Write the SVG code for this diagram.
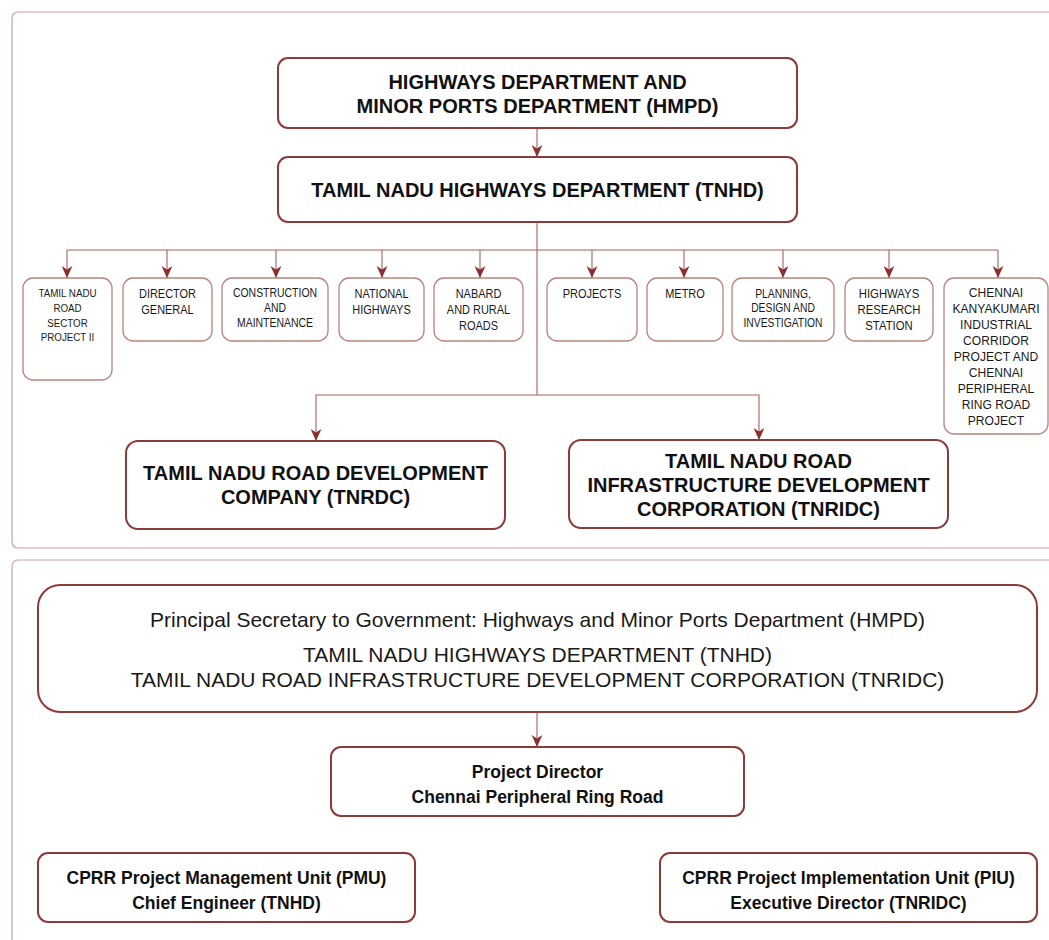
<svg xmlns="http://www.w3.org/2000/svg" width="1049" height="940" viewBox="0 0 1049 940">
<style>
.panel{fill:#ffffff;stroke:#c9a29e;stroke-width:1.2}
.big{fill:#ffffff;stroke:#8c3a3a;stroke-width:2}
.small{fill:#ffffff;stroke:#b8827e;stroke-width:1.3}
.conn{fill:none;stroke:#a8625e;stroke-width:1.1}
.tb{font-family:"Liberation Sans",Arial,sans-serif;font-weight:bold;fill:#111;text-anchor:middle}
.tr{font-family:"Liberation Sans",Arial,sans-serif;fill:#1a1a1a;text-anchor:middle}
.s11{font-size:12.6px}
.s10{font-size:11.5px}
.s12{font-size:13px}
</style>
<defs>
<marker id="arr" markerUnits="userSpaceOnUse" markerWidth="12" markerHeight="12" viewBox="0 0 10 10" refX="10" refY="5" orient="auto">
<path d="M0,0.5 L10,5 L0,9.5 L3,5 z" fill="#8c2f2f"/>
</marker>
</defs>
<rect width="1049" height="940" fill="#ffffff"/>
<rect class="panel" x="12" y="12" width="1060" height="536" rx="6"/>
<rect class="panel" x="12" y="560" width="1060" height="400" rx="6"/>

<g id="connectors">
<line class="conn" x1="537" y1="128" x2="537" y2="157" marker-end="url(#arr)"/>
<line class="conn" x1="537" y1="222" x2="537" y2="395"/>
<line class="conn" x1="67" y1="250" x2="998" y2="250"/>
<line class="conn" x1="67" y1="250" x2="67" y2="278" marker-end="url(#arr)"/>
<line class="conn" x1="167" y1="250" x2="167" y2="278" marker-end="url(#arr)"/>
<line class="conn" x1="276" y1="250" x2="276" y2="278" marker-end="url(#arr)"/>
<line class="conn" x1="382" y1="250" x2="382" y2="278" marker-end="url(#arr)"/>
<line class="conn" x1="480" y1="250" x2="480" y2="278" marker-end="url(#arr)"/>
<line class="conn" x1="592" y1="250" x2="592" y2="278" marker-end="url(#arr)"/>
<line class="conn" x1="684" y1="250" x2="684" y2="278" marker-end="url(#arr)"/>
<line class="conn" x1="783" y1="250" x2="783" y2="278" marker-end="url(#arr)"/>
<line class="conn" x1="889" y1="250" x2="889" y2="278" marker-end="url(#arr)"/>
<line class="conn" x1="998" y1="250" x2="998" y2="278" marker-end="url(#arr)"/>
<polyline class="conn" points="537,395 316,395 316,441" marker-end="url(#arr)"/>
<polyline class="conn" points="537,395 759,395 759,440" marker-end="url(#arr)"/>
<line class="conn" x1="537" y1="712" x2="537" y2="747" marker-end="url(#arr)"/>
</g>

<g id="hmpd">
<rect class="big" x="278" y="58" width="519" height="70" rx="10"/>
<text class="tb" font-size="20" x="537.5" y="89">HIGHWAYS DEPARTMENT AND</text>
<text class="tb" font-size="20" x="537.5" y="113">MINOR PORTS DEPARTMENT (HMPD)</text>
</g>
<g id="tnhd">
<rect class="big" x="278" y="157" width="519" height="65" rx="10"/>
<text class="tb" font-size="20" x="537.5" y="197">TAMIL NADU HIGHWAYS DEPARTMENT (TNHD)</text>
</g>

<g id="tnrsp">
<rect class="small" x="23" y="278" width="89" height="102" rx="10"/>
<g transform="translate(67.5 0) scale(0.85 1)">
<text class="tr s10" x="0" y="297">TAMIL NADU</text>
<text class="tr s10" x="0" y="312">ROAD</text>
<text class="tr s10" x="0" y="327">SECTOR</text>
<text class="tr s10" x="0" y="341">PROJECT II</text>
</g>
</g>
<g id="dg">
<rect class="small" x="123" y="278" width="89" height="63" rx="10"/>
<g transform="translate(167.5 0) scale(0.87 1)">
<text class="tr s11" x="0" y="298.5">DIRECTOR</text>
<text class="tr s11" x="0" y="314.5">GENERAL</text>
</g>
</g>
<g id="cm">
<rect class="small" x="222" y="278" width="106" height="63" rx="10"/>
<g transform="translate(275 0) scale(0.83 1)">
<text class="tr s11" x="0" y="297.5">CONSTRUCTION</text>
<text class="tr s11" x="0" y="312.5">AND</text>
<text class="tr s11" x="0" y="327.5">MAINTENANCE</text>
</g>
</g>
<g id="nh">
<rect class="small" x="339" y="278" width="85" height="63" rx="10"/>
<g transform="translate(381.5 0) scale(0.87 1)">
<text class="tr s11" x="0" y="298.5">NATIONAL</text>
<text class="tr s11" x="0" y="314.5">HIGHWAYS</text>
</g>
</g>
<g id="nabard">
<rect class="small" x="434" y="278" width="89" height="63" rx="10"/>
<g transform="translate(478.5 0) scale(0.87 1)">
<text class="tr s11" x="0" y="298.5">NABARD</text>
<text class="tr s11" x="0" y="314.5">AND RURAL</text>
<text class="tr s11" x="0" y="330.5">ROADS</text>
</g>
</g>
<g id="projects">
<rect class="small" x="547" y="278" width="90" height="63" rx="10"/>
<g transform="translate(592 0) scale(0.87 1)">
<text class="tr s11" x="0" y="298.5">PROJECTS</text>
</g>
</g>
<g id="metro">
<rect class="small" x="647" y="278" width="76" height="63" rx="10"/>
<g transform="translate(685 0) scale(0.87 1)">
<text class="tr s11" x="0" y="298.5">METRO</text>
</g>
</g>
<g id="pdi">
<rect class="small" x="732" y="278" width="102" height="63" rx="10"/>
<g transform="translate(783 0) scale(0.82 1)">
<text class="tr s11" x="0" y="298">PLANNING,</text>
<text class="tr s11" x="0" y="312.5">DESIGN AND</text>
<text class="tr s11" x="0" y="327.5">INVESTIGATION</text>
</g>
</g>
<g id="hrs">
<rect class="small" x="845" y="278" width="88" height="63" rx="10"/>
<g transform="translate(889 0) scale(0.9 1)">
<text class="tr s11" x="0" y="298.5">HIGHWAYS</text>
<text class="tr s11" x="0" y="314.5">RESEARCH</text>
<text class="tr s11" x="0" y="330.5">STATION</text>
</g>
</g>
<g id="ckic">
<rect class="small" x="944" y="278" width="104" height="156" rx="10"/>
<g transform="translate(996 0) scale(0.93 1)">
<text class="tr s12" x="0" y="297.5">CHENNAI</text>
<text class="tr s12" x="0" y="313.5">KANYAKUMARI</text>
<text class="tr s12" x="0" y="329.5">INDUSTRIAL</text>
<text class="tr s12" x="0" y="345.5">CORRIDOR</text>
<text class="tr s12" x="0" y="361.5">PROJECT AND</text>
<text class="tr s12" x="0" y="377.5">CHENNAI</text>
<text class="tr s12" x="0" y="393.5">PERIPHERAL</text>
<text class="tr s12" x="0" y="409.5">RING ROAD</text>
<text class="tr s12" x="0" y="425.5">PROJECT</text>
</g>
</g>

<g id="tnrdc">
<rect class="big" x="126" y="441" width="379" height="88" rx="12"/>
<text class="tb" font-size="20" x="315.5" y="480">TAMIL NADU ROAD DEVELOPMENT</text>
<text class="tb" font-size="20" x="315.5" y="504">COMPANY (TNRDC)</text>
</g>
<g id="tnridc">
<rect class="big" x="569" y="440" width="379" height="88" rx="12"/>
<text class="tb" font-size="20" x="758.5" y="468">TAMIL NADU ROAD</text>
<text class="tb" font-size="20" x="758.5" y="492">INFRASTRUCTURE DEVELOPMENT</text>
<text class="tb" font-size="20" x="758.5" y="516">CORPORATION (TNRIDC)</text>
</g>

<g id="secretary">
<rect class="big" x="38" y="585" width="999" height="127" rx="22"/>
<text class="tr" font-size="21" x="537.5" y="626.5">Principal Secretary to Government: Highways and Minor Ports Department (HMPD)</text>
<text class="tr" font-size="21" x="537.5" y="661.5">TAMIL NADU HIGHWAYS DEPARTMENT (TNHD)</text>
<text class="tr" font-size="21" x="537.5" y="686.5">TAMIL NADU ROAD INFRASTRUCTURE DEVELOPMENT CORPORATION (TNRIDC)</text>
</g>
<g id="pd">
<rect class="big" x="331" y="747" width="413" height="69" rx="10"/>
<text class="tb" font-size="17.5" x="537.5" y="777.5">Project Director</text>
<text class="tb" font-size="17.5" x="537.5" y="802.5">Chennai Peripheral Ring Road</text>
</g>
<g id="pmu">
<rect class="big" x="38" y="853" width="377" height="69" rx="10"/>
<text class="tb" font-size="17.5" x="226.5" y="883.5">CPRR Project Management Unit (PMU)</text>
<text class="tb" font-size="17.5" x="226.5" y="908.5">Chief Engineer (TNHD)</text>
</g>
<g id="piu">
<rect class="big" x="660" y="853" width="377" height="69" rx="10"/>
<text class="tb" font-size="17.5" x="848.5" y="883.5">CPRR Project Implementation Unit (PIU)</text>
<text class="tb" font-size="17.5" x="848.5" y="908.5">Executive Director (TNRIDC)</text>
</g>
</svg>
